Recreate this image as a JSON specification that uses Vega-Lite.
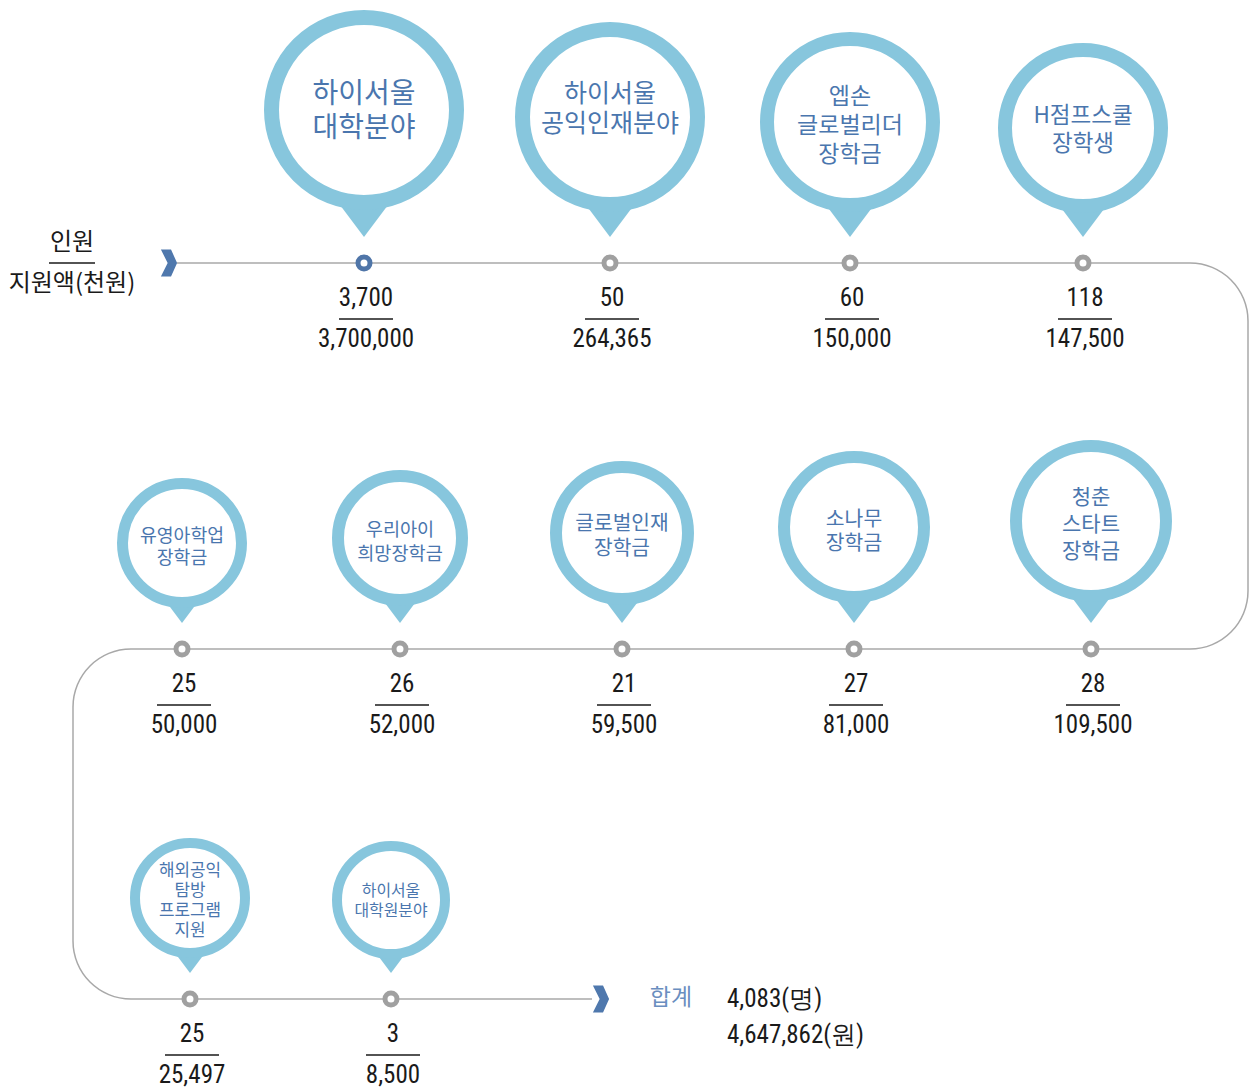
{
  "$schema": "https://vega.github.io/schema/vega-lite/v6.json",
  "width": 1254,
  "height": 1090,
  "autosize": {"type": "none"},
  "padding": 0,
  "background": "white",
  "config": {"view": {"stroke": null}},
  "datasets": {
    "items": [
      {"id": 1, "row": 1, "x": 364, "y": 263, "cy": 110, "name": ["하이서울", "대학분야"], "count": 3700, "amount": 3700000},
      {"id": 2, "row": 1, "x": 610, "y": 263, "cy": 117, "name": ["하이서울", "공익인재분야"], "count": 50, "amount": 264365},
      {"id": 3, "row": 1, "x": 850, "y": 263, "cy": 122, "name": ["엡손", "글로벌리더", "장학금"], "count": 60, "amount": 150000},
      {"id": 4, "row": 1, "x": 1083, "y": 263, "cy": 128, "name": ["H점프스쿨", "장학생"], "count": 118, "amount": 147500},
      {"id": 5, "row": 2, "x": 182, "y": 649, "cy": 543, "name": ["유영아학업", "장학금"], "count": 25, "amount": 50000},
      {"id": 6, "row": 2, "x": 400, "y": 649, "cy": 538, "name": ["우리아이", "희망장학금"], "count": 26, "amount": 52000},
      {"id": 7, "row": 2, "x": 622, "y": 649, "cy": 533, "name": ["글로벌인재", "장학금"], "count": 21, "amount": 59500},
      {"id": 8, "row": 2, "x": 854, "y": 649, "cy": 527, "name": ["소나무", "장학금"], "count": 27, "amount": 81000},
      {"id": 9, "row": 2, "x": 1091, "y": 649, "cy": 521, "name": ["청춘", "스타트", "장학금"], "count": 28, "amount": 109500},
      {"id": 10, "row": 3, "x": 190, "y": 999, "cy": 898, "name": ["해외공익", "탐방", "프로그램", "지원"], "count": 25, "amount": 25497},
      {"id": 11, "row": 3, "x": 391, "y": 999, "cy": 900, "name": ["하이서울", "대학원분야"], "count": 3, "amount": 8500}
    ],
    "segments": [
      {"x": 177, "y": 263, "x2": 1190, "y2": 263},
      {"x": 1248, "y": 321, "x2": 1248, "y2": 591},
      {"x": 1190, "y": 649, "x2": 131, "y2": 649},
      {"x": 73, "y": 707, "x2": 73, "y2": 941},
      {"x": 131, "y": 999, "x2": 592, "y2": 999}
    ],
    "corners": [
      {"x": 1190, "y": 321, "a0": 0, "a1": 1.5708},
      {"x": 1190, "y": 591, "a0": 1.5708, "a1": 3.1416},
      {"x": 131, "y": 707, "a0": 4.7124, "a1": 6.2832},
      {"x": 131, "y": 941, "a0": 3.1416, "a1": 4.7124}
    ],
    "chevrons": [
      {"x": 169, "y": 263},
      {"x": 601, "y": 999}
    ],
    "leftLabels": [
      {"x": 72, "y": 243, "text": "인원"},
      {"x": 72, "y": 284, "text": "지원액(천원)"}
    ],
    "leftRule": [
      {"x": 72, "y": 263}
    ],
    "sumLabel": [
      {"x": 671, "y": 998, "text": "합계"}
    ],
    "totals": [
      {"x": 727, "y": 999, "text": "4,083(명)"},
      {"x": 727, "y": 1035, "text": "4,647,862(원)"}
    ]
  },
  "layer": [
    {
      "data": {"name": "segments"},
      "mark": {"type": "rule", "color": "#a8a8a8", "strokeWidth": 1.5},
      "encoding": {
        "x": {"field": "x", "type": "quantitative", "scale": {"domain": [0, 1254], "nice": false, "zero": false}, "axis": null},
        "y": {"field": "y", "type": "quantitative", "scale": {"domain": [0, 1090], "nice": false, "zero": false, "reverse": true}, "axis": null},
        "x2": {"field": "x2"},
        "y2": {"field": "y2"}
      }
    },
    {
      "data": {"name": "corners"},
      "mark": {"type": "arc", "radius": 58.75, "radius2": 57.25, "fill": "#a8a8a8", "stroke": null},
      "encoding": {
        "x": {"field": "x", "type": "quantitative", "scale": {"domain": [0, 1254], "nice": false, "zero": false}, "axis": null},
        "y": {"field": "y", "type": "quantitative", "scale": {"domain": [0, 1090], "nice": false, "zero": false, "reverse": true}, "axis": null},
        "theta": {"field": "a0", "type": "quantitative", "scale": null, "stack": null},
        "theta2": {"field": "a1"}
      }
    },
    {
      "data": {"name": "items"},
      "mark": {"type": "point", "shape": "M-1.5,-2L1.5,-2L0,0Z", "filled": true, "fill": "#87c6dd", "stroke": null, "opacity": 1, "yOffset": -26,
        "size": {"expr": "[1600, 1024, 576][datum.row - 1]"}},
      "encoding": {
        "x": {"field": "x", "type": "quantitative", "scale": {"domain": [0, 1254], "nice": false, "zero": false}, "axis": null},
        "y": {"field": "y", "type": "quantitative", "scale": {"domain": [0, 1090], "nice": false, "zero": false, "reverse": true}, "axis": null}
      }
    },
    {
      "data": {"name": "items"},
      "mark": {"type": "point", "shape": "circle", "filled": true, "fill": "white", "stroke": "#87c6dd", "opacity": 1,
        "size": {"expr": "[34225, 30625, 27556, 24336, 14161, 15376, 17424, 19600, 22500, 12100, 11664][datum.id - 1]"},
        "strokeWidth": {"expr": "[15, 15, 14, 14, 11, 12, 12, 12, 12, 10, 10][datum.id - 1]"}},
      "encoding": {
        "x": {"field": "x", "type": "quantitative", "scale": {"domain": [0, 1254], "nice": false, "zero": false}, "axis": null},
        "y": {"field": "cy", "type": "quantitative", "scale": {"domain": [0, 1090], "nice": false, "zero": false, "reverse": true}, "axis": null}
      }
    },
    {
      "data": {"name": "items"},
      "mark": {"type": "text", "font": "Noto Sans CJK KR", "color": "#4a76ae", "align": "center", "baseline": "middle",
        "fontSize": {"expr": "[28, 25, 23, 22.5, 18.3, 18.6, 20.3, 20.4, 21, 16.9, 15.9][datum.id - 1]"},
        "lineHeight": {"expr": "[34, 30, 29, 28, 22, 24, 25, 24, 27, 20, 20][datum.id - 1]"},
        "dy": {"expr": "[-15, -23, -25, -12, -6, -8, -9, -7, -23, -27, -9][datum.id - 1]"}},
      "encoding": {
        "x": {"field": "x", "type": "quantitative", "scale": {"domain": [0, 1254], "nice": false, "zero": false}, "axis": null},
        "y": {"field": "cy", "type": "quantitative", "scale": {"domain": [0, 1090], "nice": false, "zero": false, "reverse": true}, "axis": null},
        "text": {"field": "name"}
      }
    },
    {
      "data": {"name": "items"},
      "mark": {"type": "point", "shape": "circle", "filled": true, "fill": "white", "opacity": 1, "size": 144, "strokeWidth": 5},
      "encoding": {
        "x": {"field": "x", "type": "quantitative", "scale": {"domain": [0, 1254], "nice": false, "zero": false}, "axis": null},
        "y": {"field": "y", "type": "quantitative", "scale": {"domain": [0, 1090], "nice": false, "zero": false, "reverse": true}, "axis": null},
        "stroke": {"condition": {"test": "datum.id == 1", "value": "#4f75a8"}, "value": "#a0a0a0"}
      }
    },
    {
      "data": {"name": "items"},
      "mark": {"type": "text", "font": "Roboto Condensed, DejaVu Sans Condensed", "fontSize": 25, "color": "#1a1a1a", "align": "center", "baseline": "middle", "dx": 2, "yOffset": 35},
      "encoding": {
        "x": {"field": "x", "type": "quantitative", "scale": {"domain": [0, 1254], "nice": false, "zero": false}, "axis": null},
        "y": {"field": "y", "type": "quantitative", "scale": {"domain": [0, 1090], "nice": false, "zero": false, "reverse": true}, "axis": null},
        "text": {"field": "count", "type": "quantitative", "format": ","}
      }
    },
    {
      "data": {"name": "items"},
      "mark": {"type": "point", "shape": "stroke", "filled": false, "stroke": "#1a1a1a", "strokeWidth": 1.5, "opacity": 1, "size": 2916, "xOffset": 2, "yOffset": 56},
      "encoding": {
        "x": {"field": "x", "type": "quantitative", "scale": {"domain": [0, 1254], "nice": false, "zero": false}, "axis": null},
        "y": {"field": "y", "type": "quantitative", "scale": {"domain": [0, 1090], "nice": false, "zero": false, "reverse": true}, "axis": null}
      }
    },
    {
      "data": {"name": "items"},
      "mark": {"type": "text", "font": "Roboto Condensed, DejaVu Sans Condensed", "fontSize": 25, "color": "#1a1a1a", "align": "center", "baseline": "middle", "dx": 2, "yOffset": 76},
      "encoding": {
        "x": {"field": "x", "type": "quantitative", "scale": {"domain": [0, 1254], "nice": false, "zero": false}, "axis": null},
        "y": {"field": "y", "type": "quantitative", "scale": {"domain": [0, 1090], "nice": false, "zero": false, "reverse": true}, "axis": null},
        "text": {"field": "amount", "type": "quantitative", "format": ","}
      }
    },
    {
      "data": {"name": "chevrons"},
      "mark": {"type": "point", "shape": "M-0.6,-1L0.15,-1L0.6,0L0.15,1L-0.6,1L-0.1,0Z", "filled": true, "fill": "#4f78ad", "stroke": null, "opacity": 1, "size": 729},
      "encoding": {
        "x": {"field": "x", "type": "quantitative", "scale": {"domain": [0, 1254], "nice": false, "zero": false}, "axis": null},
        "y": {"field": "y", "type": "quantitative", "scale": {"domain": [0, 1090], "nice": false, "zero": false, "reverse": true}, "axis": null}
      }
    },
    {
      "data": {"name": "leftLabels"},
      "mark": {"type": "text", "font": "Noto Sans CJK KR", "fontSize": 24, "color": "#1a1a1a", "align": "center", "baseline": "middle"},
      "encoding": {
        "x": {"field": "x", "type": "quantitative", "scale": {"domain": [0, 1254], "nice": false, "zero": false}, "axis": null},
        "y": {"field": "y", "type": "quantitative", "scale": {"domain": [0, 1090], "nice": false, "zero": false, "reverse": true}, "axis": null},
        "text": {"field": "text"}
      }
    },
    {
      "data": {"name": "leftRule"},
      "mark": {"type": "point", "shape": "stroke", "filled": false, "stroke": "#1a1a1a", "strokeWidth": 1.5, "opacity": 1, "size": 2116},
      "encoding": {
        "x": {"field": "x", "type": "quantitative", "scale": {"domain": [0, 1254], "nice": false, "zero": false}, "axis": null},
        "y": {"field": "y", "type": "quantitative", "scale": {"domain": [0, 1090], "nice": false, "zero": false, "reverse": true}, "axis": null}
      }
    },
    {
      "data": {"name": "sumLabel"},
      "mark": {"type": "text", "font": "Noto Sans CJK KR", "fontSize": 23, "color": "#6a8ec0", "align": "center", "baseline": "middle"},
      "encoding": {
        "x": {"field": "x", "type": "quantitative", "scale": {"domain": [0, 1254], "nice": false, "zero": false}, "axis": null},
        "y": {"field": "y", "type": "quantitative", "scale": {"domain": [0, 1090], "nice": false, "zero": false, "reverse": true}, "axis": null},
        "text": {"field": "text"}
      }
    },
    {
      "data": {"name": "totals"},
      "mark": {"type": "text", "font": "Roboto Condensed, DejaVu Sans Condensed", "fontSize": 25, "color": "#1a1a1a", "align": "left", "baseline": "middle"},
      "encoding": {
        "x": {"field": "x", "type": "quantitative", "scale": {"domain": [0, 1254], "nice": false, "zero": false}, "axis": null},
        "y": {"field": "y", "type": "quantitative", "scale": {"domain": [0, 1090], "nice": false, "zero": false, "reverse": true}, "axis": null},
        "text": {"field": "text"}
      }
    }
  ]
}
